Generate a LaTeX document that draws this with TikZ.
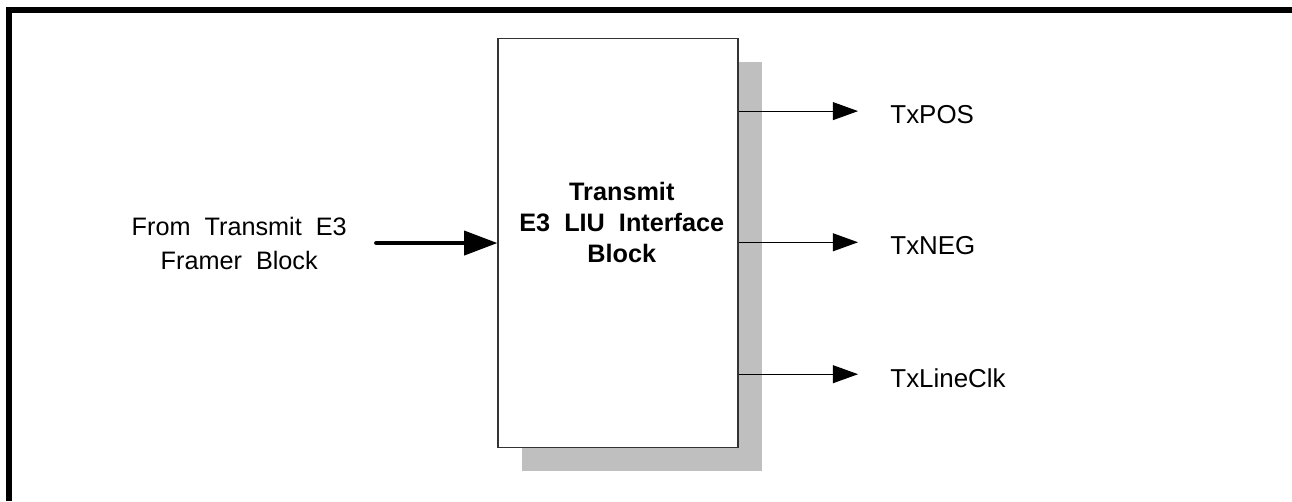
\documentclass[tikz,border=0pt]{standalone}
\usepackage{fontspec}
\setmainfont{Liberation Sans}[WordSpace=2]
\usetikzlibrary{arrows.meta,positioning}

\tikzset{
    liubox/.style={draw=black!80, line width=0.9pt, fill=white, minimum width=6.35cm, minimum height=10.82cm, inner sep=0pt},
    shadowbox/.style={fill=black!25, draw=none, minimum width=6.35cm, minimum height=10.82cm, inner sep=0pt},
    siglabel/.style={anchor=west, inner sep=0pt, font=\fontsize{19.5}{23}\selectfont},
    sigarrow/.style={-{Triangle[length=19pt,width=13.5pt]}, line width=0.9pt},
    busarrow/.style={-{Triangle[length=25pt,width=18pt]}, line width=3pt, line cap=round}
}

\begin{document}
\begin{tikzpicture}

\useasboundingbox (0,0) rectangle (34.18,13.26);

\draw[line width=4.5pt] (0.238,0) -- (0.238,12.99) -- (34.18,12.99);

\node[shadowbox] (shadow) at (16.985,6.205) {};
\node[liubox] (liu) at (16.35,6.84) {};
\node[align=center, font=\bfseries\fontsize{19}{23.5}\selectfont] (liutext) at ([xshift=0.1cm,yshift=0.53cm]liu.center) {Transmit\\E3 LIU Interface\\Block};

\coordinate (in) at (9.95,6.83);
\node[align=center, inner sep=0pt, left=0.77cm of in, font=\fontsize{19}{25.5}\selectfont] (src) {From Transmit E3\\Framer Block};
\draw[busarrow] (in) -- (liu.west |- in);

\node[siglabel] (pos) at (23.55,10.22) {TxPOS};
\node[siglabel] (neg) at (23.55,6.75) {TxNEG};
\node[siglabel] (clk) at (23.55,3.26) {TxLineClk};

\draw[sigarrow] (liu.east |- 0,10.32) -- ([xshift=-0.85cm,yshift=0.1cm]pos.west);
\draw[sigarrow] (liu.east |- 0,6.85) -- ([xshift=-0.85cm,yshift=0.1cm]neg.west);
\draw[sigarrow] (liu.east |- 0,3.36) -- ([xshift=-0.85cm,yshift=0.1cm]clk.west);

\end{tikzpicture}
\end{document}
